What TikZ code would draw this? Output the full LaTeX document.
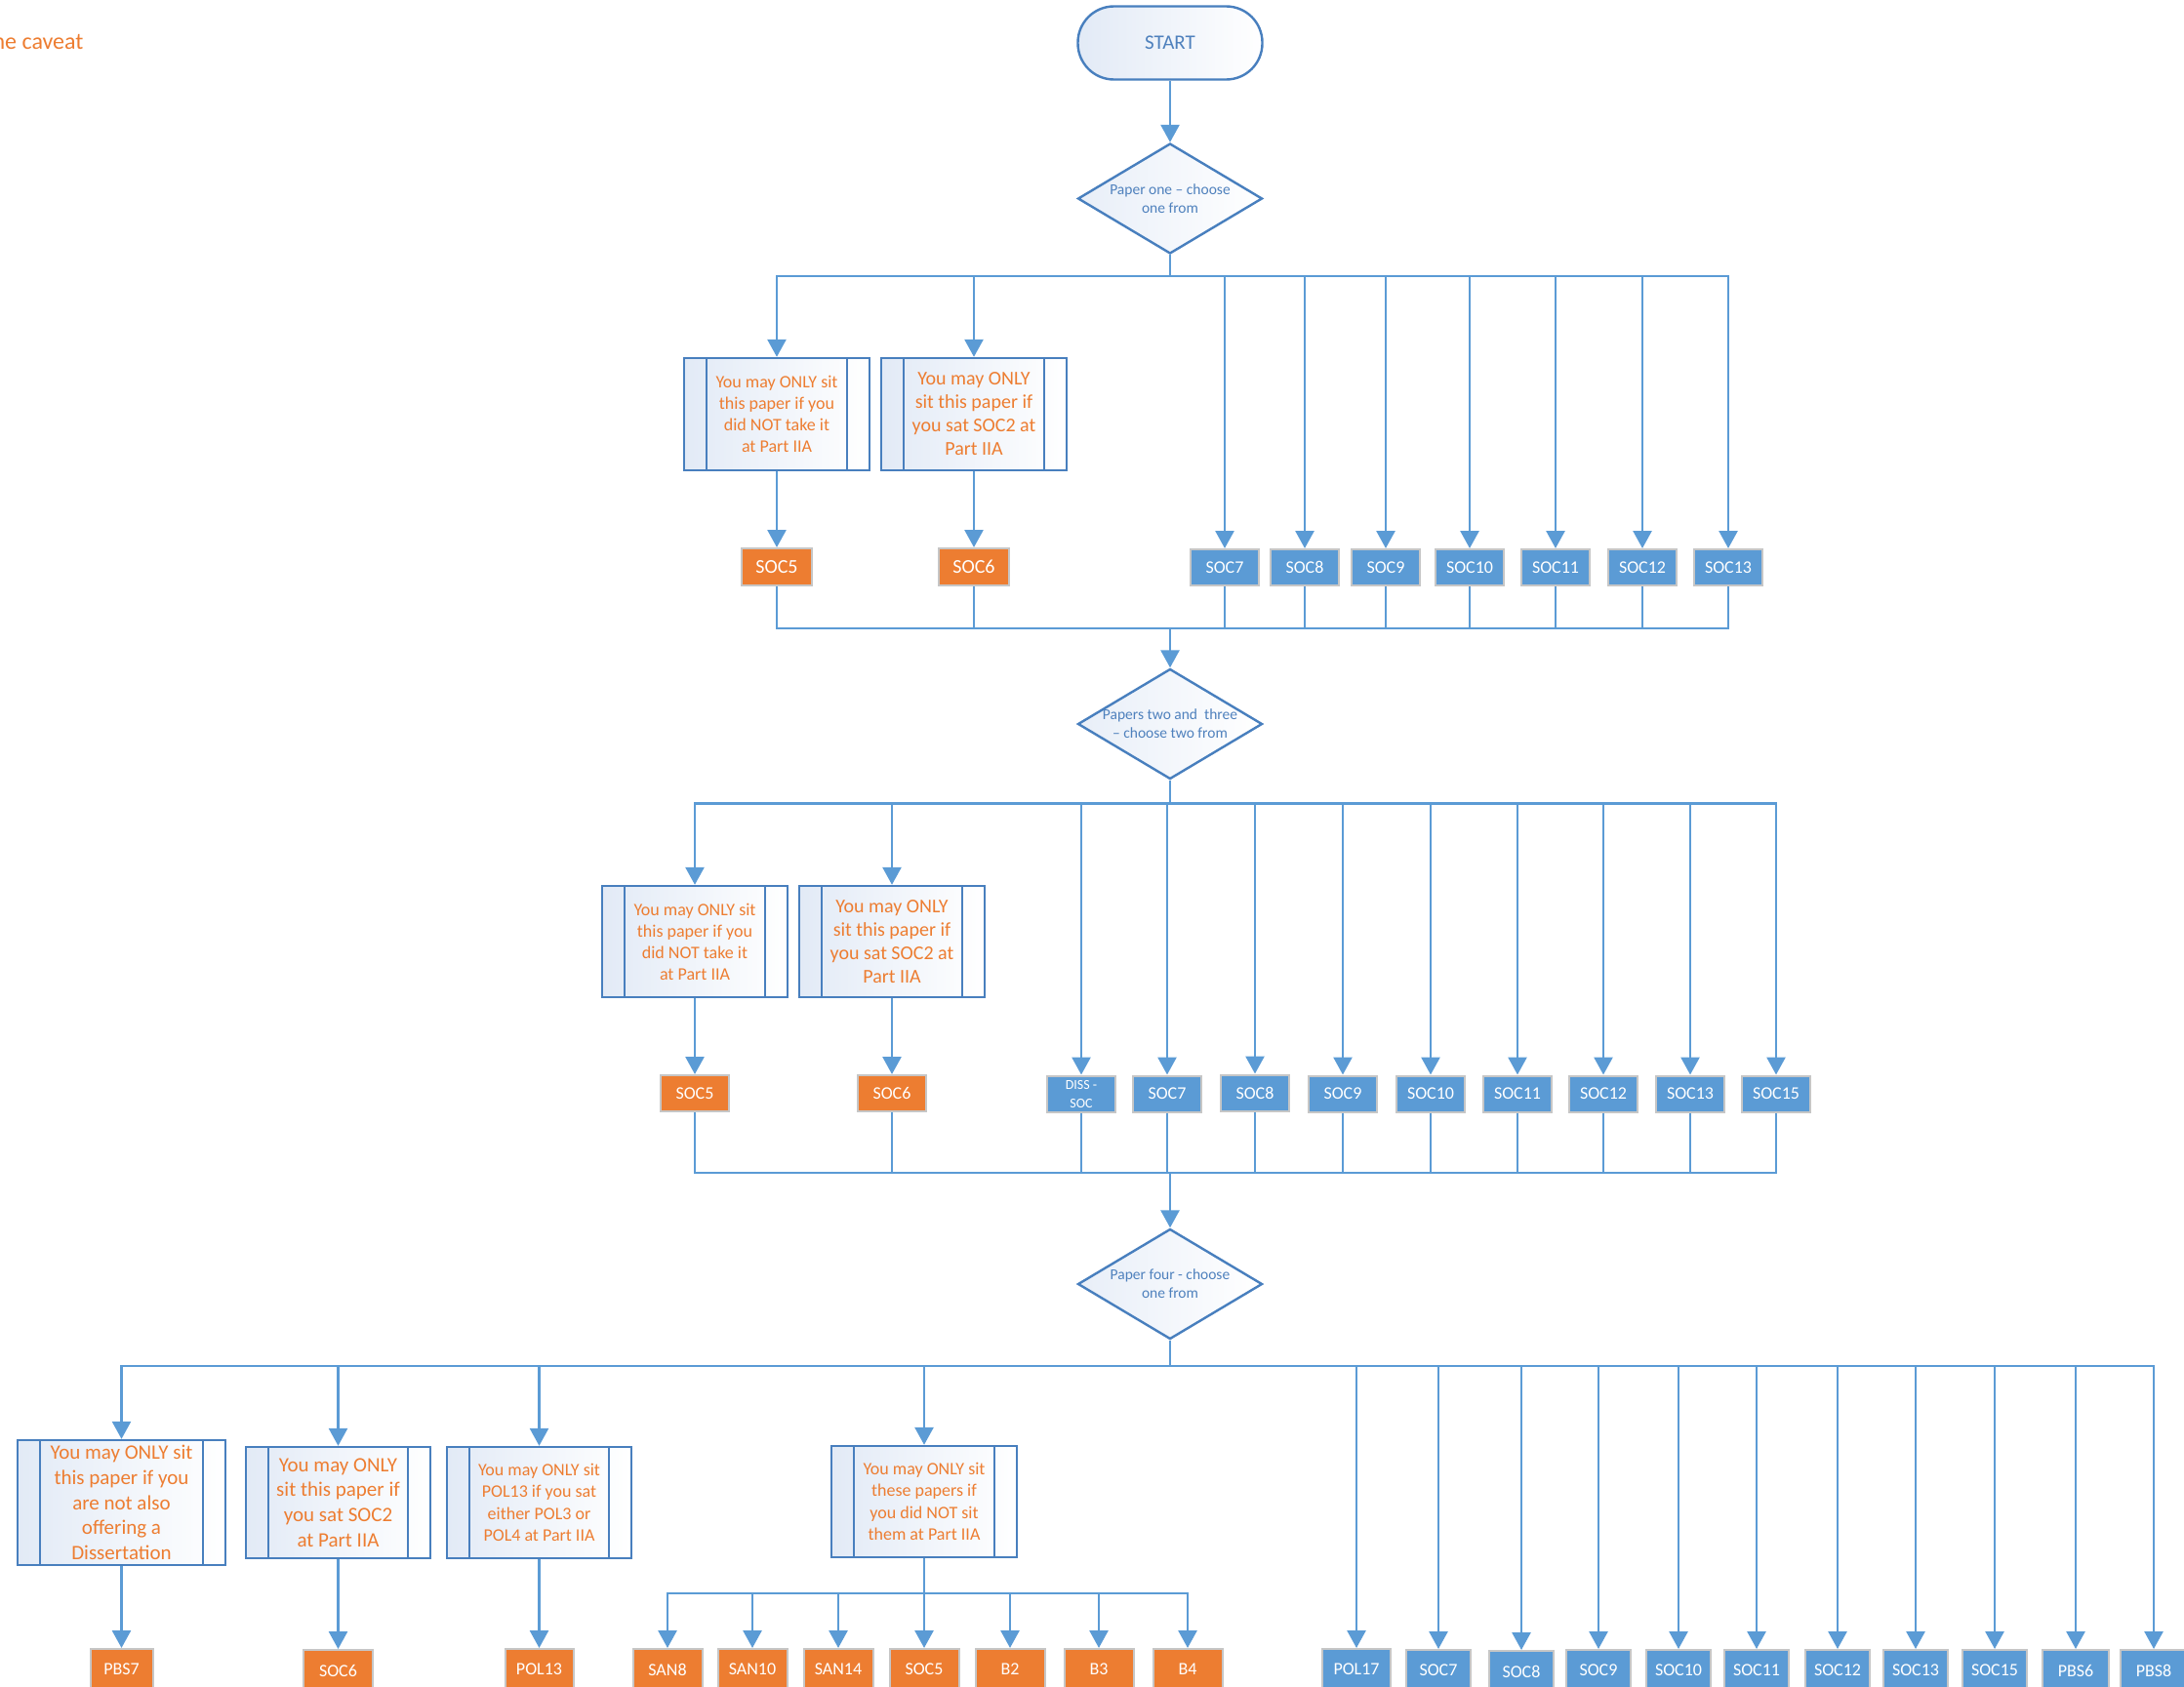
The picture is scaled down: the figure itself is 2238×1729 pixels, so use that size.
\documentclass[tikz,border=0pt]{standalone}
\usepackage{fontspec}
\setmainfont{Carlito}
\usetikzlibrary{arrows.meta,shapes.geometric}

\definecolor{lineblue}{RGB}{91,155,213}
\definecolor{fillblue}{RGB}{91,155,213}
\definecolor{fillorange}{RGB}{237,125,49}
\definecolor{txtorange}{RGB}{237,125,49}
\definecolor{edgeblue}{RGB}{72,127,190}
\definecolor{txtblue}{RGB}{79,129,189}
\definecolor{tint}{RGB}{226,234,246}
\definecolor{labedge}{RGB}{198,198,198}

\begin{document}
\begin{tikzpicture}[x=1pt,y=-1pt,
  conn/.style={draw=lineblue, line width=2.7pt},
  arr/.style={conn, -{Triangle[width=19pt,length=18pt]}},
  term/.style={rectangle, draw=edgeblue, line width=2.4pt, rounded corners=37pt,
    minimum width=189pt, minimum height=75pt, inner sep=0pt,
    left color=tint, right color=white, text=txtblue, font=\fontsize{21}{25}\selectfont},
  dec/.style={diamond, draw=edgeblue, line width=2.4pt, minimum width=189pt,
    minimum height=113pt, inner sep=0pt, aspect=1.67, left color=tint!80,
    right color=white, text=txtblue, align=center, font=\fontsize{15.5}{19}\selectfont},
  proc/.style={rectangle, draw=edgeblue, line width=2.4pt, minimum width=190pt,
    minimum height=115pt, inner sep=0pt, left color=tint, right color=white,
    text=txtorange, align=center,
    path picture={\draw[edgeblue, line width=2.4pt]
      ([xshift=23pt]path picture bounding box.north west) -- ([xshift=23pt]path picture bounding box.south west)
      ([xshift=-23pt]path picture bounding box.north east) -- ([xshift=-23pt]path picture bounding box.south east);}},
  lab/.style={rectangle, draw=labedge, line width=2pt, inner sep=0pt,
    minimum width=70pt, minimum height=37pt, text=white, font=\fontsize{18}{21}\selectfont},
  blab/.style={lab, fill=fillblue},
  olab/.style={lab, fill=fillorange},
  fA/.style={font=\fontsize{18}{22}\selectfont},
  fB/.style={font=\fontsize{20}{24}\selectfont},
  fC/.style={font=\fontsize{21}{25.6}\selectfont}
]
\path[use as bounding box, clip] (0,0) rectangle (2238,1729);

\node[anchor=base east, text=txtorange, font=\fontsize{24}{28}\selectfont] (caveat) at (89,50) {ne caveat};

% ---------------- Paper one ----------------
\node[term] (start) at (1199,44) {START};
\node[dec] (d1) at (1199,203.5) {Paper one – choose\\one from};
\coordinate (j1) at (1199,283);

\node[proc, fA] (p11) at (796,424.5) {You may ONLY sit\\this paper if you\\did NOT take it\\at Part IIA};
\node[proc, fB] (p12) at (998,424.5) {You may ONLY\\sit this paper if\\you sat SOC2 at\\Part IIA};

\node[olab, minimum width=72pt, minimum height=38pt, font=\fontsize{20}{24}\selectfont] (a5) at (796,581) {SOC5};
\node[olab, minimum width=72pt, minimum height=38pt, font=\fontsize{20}{24}\selectfont] (a6) at (998,581) {SOC6};
\node[blab] (a7) at (1255,581.5) {SOC7};
\node[blab] (a8) at (1337,581.5) {SOC8};
\node[blab] (a9) at (1420,581.5) {SOC9};
\node[blab] (a10) at (1506,581.5) {SOC10};
\node[blab] (a11) at (1594,581.5) {SOC11};
\node[blab] (a12) at (1683,581.5) {SOC12};
\node[blab] (a13) at (1771,581.5) {SOC13};
\coordinate (m1) at (1199,644);

\draw[arr] (start) -- (d1);
\draw[conn] (d1) -- (j1);
\foreach \t in {p11,p12,a7,a8,a9,a10,a11,a12,a13}
  \draw[arr] (j1) -| (\t.north);
\draw[arr] (p11) -- (a5);
\draw[arr] (p12) -- (a6);
\foreach \t in {a5,a6,a7,a8,a9,a10,a11,a12,a13}
  \draw[conn] (\t.south) |- (m1);

% ---------------- Papers two and three ----------------
\node[dec] (d2) at (1199,742) {Papers two and\ \ three\\– choose two from};
\coordinate (j2) at (1199,823.5);
\draw[arr] (m1) -- (d2);
\draw[conn] (d2) -- (j2);

\node[proc, fA, minimum height=114pt] (p21) at (712,965) {You may ONLY sit\\this paper if you\\did NOT take it\\at Part IIA};
\node[proc, fB, minimum height=114pt] (p22) at (914,965) {You may ONLY\\sit this paper if\\you sat SOC2 at\\Part IIA};

\node[olab] (b5) at (712,1120.5) {SOC5};
\node[olab] (b6) at (914,1120.5) {SOC6};
\node[blab, font=\fontsize{14}{19}\selectfont, align=center] (bd) at (1108,1121) {DISS -\\SOC};
\node[blab] (b7) at (1196,1121) {SOC7};
\node[blab] (b8) at (1286,1120) {SOC8};
\node[blab] (b9) at (1376,1121) {SOC9};
\node[blab] (b10) at (1466,1121) {SOC10};
\node[blab] (b11) at (1555,1121) {SOC11};
\node[blab] (b12) at (1643,1121) {SOC12};
\node[blab] (b13) at (1732,1121) {SOC13};
\node[blab] (b15) at (1820,1121) {SOC15};
\coordinate (m2) at (1199,1202);

\foreach \t in {p21,p22,bd,b7,b8,b9,b10,b11,b12,b13,b15}
  \draw[arr] (j2) -| (\t.north);
\draw[arr] (p21) -- (b5);
\draw[arr] (p22) -- (b6);
\foreach \t in {b5,b6,bd,b7,b8,b9,b10,b11,b12,b13,b15}
  \draw[conn] (\t.south) |- (m2);

% ---------------- Paper four ----------------
\node[dec] (d3) at (1199,1316) {Paper four - choose\\one from};
\coordinate (j3) at (1199,1400);
\draw[arr] (m2) -- (d3);
\draw[conn] (d3) -- (j3);

\node[proc, fC, minimum width=213pt, minimum height=128pt] (pa) at (124.5,1540) {You may ONLY sit\\this paper if you\\are not also\\offering a\\Dissertation};
\node[proc, fC, minimum width=189pt, minimum height=114pt] (pb) at (346.5,1540) {You may ONLY\\sit this paper if\\you sat SOC2\\at Part IIA};
\node[proc, font=\fontsize{18}{22.3}\selectfont, minimum width=189pt, minimum height=114pt] (pc) at (552.5,1540) {You may ONLY sit\\POL13 if you sat\\either POL3 or\\POL4 at Part IIA};
\node[proc, font=\fontsize{18}{22.3}\selectfont, minimum width=190pt, minimum height=114pt] (pd) at (947,1539) {You may ONLY sit\\these papers if\\you did NOT sit\\them at Part IIA};

\node[olab, minimum width=64pt, minimum height=42pt] (c1) at (124.5,1711) {PBS7};
\node[olab, minimum width=71pt, minimum height=42pt] (c2) at (346.5,1712) {SOC6};
\node[olab, minimum width=70pt, minimum height=42pt] (c3) at (552.5,1711) {POL13};
\coordinate (jd) at (947,1633);
\node[olab, minimum width=71pt, minimum height=42pt] (s1) at (684,1711) {SAN8};
\node[olab, minimum width=71pt, minimum height=42pt] (s2) at (771,1711) {SAN10};
\node[olab, minimum width=71pt, minimum height=42pt] (s3) at (859,1711) {SAN14};
\node[olab, minimum width=71pt, minimum height=42pt] (s4) at (947,1711) {SOC5};
\node[olab, minimum width=71pt, minimum height=42pt] (s5) at (1035,1711) {B2};
\node[olab, minimum width=71pt, minimum height=42pt] (s6) at (1126,1711) {B3};
\node[olab, minimum width=71pt, minimum height=42pt] (s7) at (1217,1711) {B4};

\node[blab, minimum width=70pt, minimum height=42pt] (e1) at (1390,1711) {POL17};
\node[blab, minimum width=66pt, minimum height=42pt] (e2) at (1474,1712) {SOC7};
\node[blab, minimum width=66pt, minimum height=42pt] (e3) at (1559,1713) {SOC8};
\node[blab, minimum width=66pt, minimum height=42pt] (e4) at (1638,1712) {SOC9};
\node[blab, minimum width=66pt, minimum height=42pt] (e5) at (1720,1712) {SOC10};
\node[blab, minimum width=66pt, minimum height=42pt] (e6) at (1800,1712) {SOC11};
\node[blab, minimum width=66pt, minimum height=42pt] (e7) at (1883,1712) {SOC12};
\node[blab, minimum width=66pt, minimum height=42pt] (e8) at (1963,1712) {SOC13};
\node[blab, minimum width=66pt, minimum height=42pt] (e9) at (2044,1712) {SOC15};
\node[blab, minimum width=68pt, minimum height=42pt] (e10) at (2127,1712) {PBS6};
\node[blab, minimum width=68pt, minimum height=42pt] (e11) at (2207,1712) {PBS8};

\foreach \t in {pa,pb,pc,pd,e1,e2,e3,e4,e5,e6,e7,e8,e9,e10,e11}
  \draw[arr] (j3) -| (\t.north);
\draw[arr] (pa) -- (c1);
\draw[arr] (pb) -- (c2);
\draw[arr] (pc) -- (c3);
\draw[conn] (pd) -- (jd);
\foreach \t in {s1,s2,s3,s4,s5,s6,s7}
  \draw[arr] (jd) -| (\t.north);
\end{tikzpicture}
\end{document}
